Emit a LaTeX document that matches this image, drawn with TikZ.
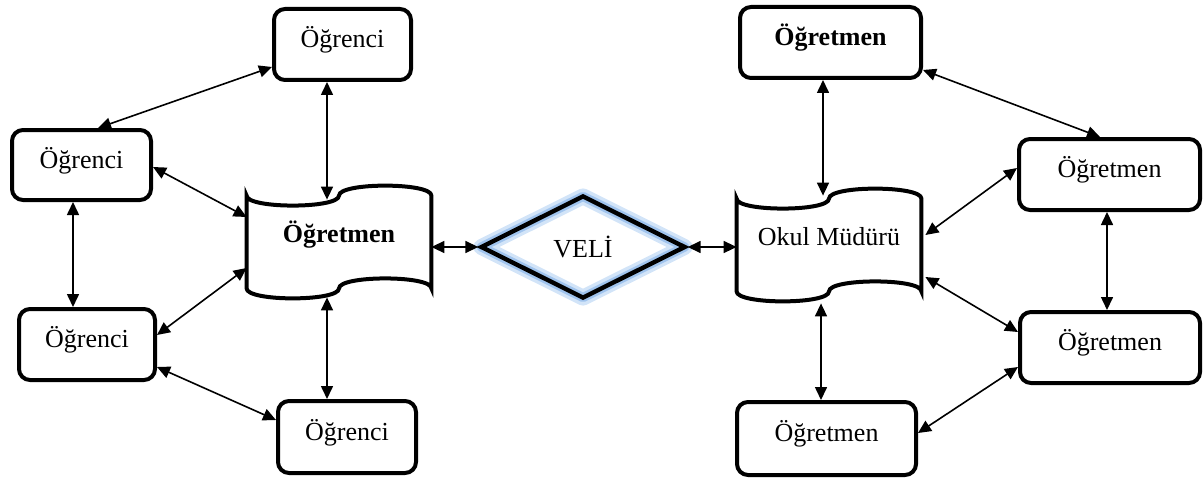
\documentclass[tikz,border=0pt]{standalone}
\usepackage{fontspec}
\setmainfont{Liberation Serif}
\usetikzlibrary{shapes.geometric,arrows.meta,calc}
\definecolor{glowA}{RGB}{210,228,248}
\definecolor{glowB}{RGB}{160,196,238}
\newcommand\docwave[1]{%
  \draw[docline] (#1.north west) .. controls +(0,13.3) and +(0,13.3) .. (#1.north)
    .. controls +(0,-13.3) and +(0,-13.3) .. (#1.north east) -- (#1.south east)
    .. controls +(0,-13.3) and +(0,-13.3) .. (#1.south)
    .. controls +(0,13.3) and +(0,13.3) .. (#1.south west) -- cycle;}
\begin{document}
\begin{tikzpicture}[x=0.5pt,y=-0.5pt,
  box/.style={draw, line width=2pt, rounded corners=5.5pt, inner sep=0pt,
    font=\fontsize{13}{15}\selectfont, text height=8pt, text depth=5pt},
  docbox/.style={inner sep=0pt, minimum width=92pt, minimum height=46pt,
    font=\fontsize{13}{15}\selectfont, text height=5pt, text depth=5pt},
  docline/.style={line width=2pt, line join=miter},
  veli/.style={diamond, draw, line width=2.2pt, inner sep=0pt,
    minimum width=102.5pt, minimum height=51.5pt,
    font=\fontsize{13}{15}\selectfont,
    preaction={draw=glowA, line width=8pt, line join=round},
    preaction={draw=glowB, line width=4.6pt, line join=round}},
  link/.style={line width=0.8pt, >={Triangle[length=6.5pt,width=6pt]}, <->},
]
\useasboundingbox (0,0) rectangle (1203,481);

% left cluster
\node[box, minimum width=68.5pt, minimum height=35.5pt] (A1) at (342.5,44.5) {Öğrenci};
\node[box, minimum width=69.5pt, minimum height=35pt] (A2) at (81.5,165) {Öğrenci};
\node[box, minimum width=68pt, minimum height=35.5pt] (A3) at (87,344.5) {Öğrenci};
\node[box, minimum width=69pt, minimum height=36pt] (A4) at (347,437) {Öğrenci};
\node[docbox] (D1) at (339,242) {\textbf{Öğretmen}};
\docwave{D1}

% centre
\node[veli] (V) at (583,247) {VELİ};

% right cluster
\node[box, minimum width=90.5pt, minimum height=35.5pt] (B1) at (830.5,42.5) {\textbf{Öğretmen}};
\node[box, minimum width=90.5pt, minimum height=35.5pt] (B2) at (1109.5,174.5) {Öğretmen};
\node[box, minimum width=90pt, minimum height=35.5pt] (B3) at (1110,347.5) {Öğretmen};
\node[box, minimum width=89.5pt, minimum height=36.5pt] (B4) at (826.5,438.5) {Öğretmen};
\node[docbox] (D2) at (829,245) {Okul Müdürü};
\docwave{D2}

% connectors, left
\draw[link] ($(A1.west)+(0,22.5)$) -- ($(A2.north)+(16.5,0)$);
\draw[link] ($(A1.south)+(-15.5,0)$) -- ($(D1.north)+(-12,4)$);
\draw[link] ($(A2.east)+(0,2)$) -- ($(D1.west)+(0,-25)$);
\draw[link] ($(A2.south)+(-8.5,0)$) -- ($(A3.north)+(-14,0)$);
\draw[link] ($(A3.east)+(0,-9.5)$) -- ($(D1.west)+(0,26)$);
\draw[link] ($(A3.east)+(0,22.5)$) -- ($(A4.west)+(0,-17)$);
\draw[link] ($(D1.south)+(-12,9)$) -- ($(A4.north)+(-20,0)$);
\draw[link] ($(D1.east)+(0,5)$) -- (V.west);

% connectors, right
\draw[link] (V.east) -- ($(D2.west)+(0,2)$);
\draw[link] ($(B1.south)+(-7.5,0)$) -- ($(D2.north)+(-6,-3)$);
\draw[link] ($(B1.east)+(0,27.5)$) -- ($(B2.north)+(-9.5,0)$);
\draw[link] ($(D2.east)+(4,-10)$) -- ($(B2.west)+(0,-6.5)$);
\draw[link] ($(B2.south)+(-2.5,0)$) -- ($(B3.north)+(-3,0)$);
\draw[link] ($(D2.east)+(4,32)$) -- ($(B3.west)+(0,-15.5)$);
\draw[link] ($(D2.south)+(-8,12)$) -- ($(B4.north)+(-5.5,0)$);
\draw[link] ($(B3.west)+(0,19.5)$) -- ($(B4.east)+(0,-5.5)$);
\end{tikzpicture}
\end{document}
